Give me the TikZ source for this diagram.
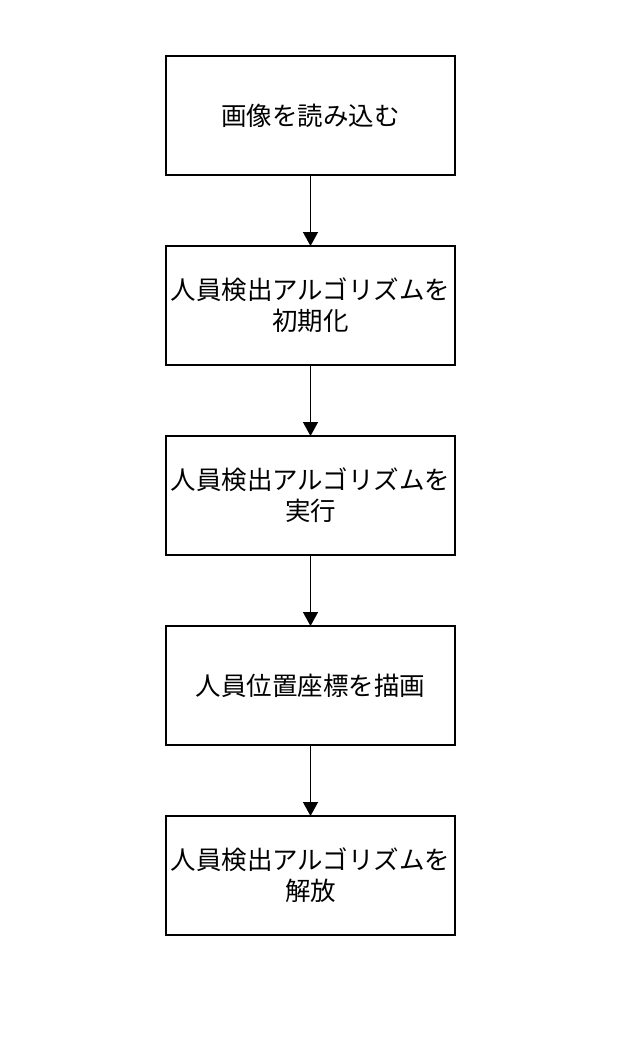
\documentclass[tikz,border=0pt]{standalone}
\usepackage{fontspec}
\setmainfont{Noto Sans CJK JP}
\usetikzlibrary{arrows.meta,positioning}
\begin{document}
\begin{tikzpicture}[
		x=1pt,
		y=-1pt,
		font=\fontsize{25.5}{31}\selectfont,
		>={Triangle[length=14pt,width=15pt]},
		box/.style={draw,line width=1.4pt,align=center,minimum width=289pt,minimum height=119pt,text width=289pt,inner sep=0pt,outer sep=0pt},
		flow/.style={->,line width=1.4pt},
		node distance=71pt
		]
		
		% =====================================================
		% Canvas
		% =====================================================
		\useasboundingbox (0,0) rectangle (620,1050);
		
		% =====================================================
		% Steps
		% =====================================================
		\node[box] (load) at (310.5,115.5) {画像を読み込む};
		
		\node[box,below=of load] (init)
		{人員検出アルゴリズムを\\初期化};
		
		\node[box,below=of init] (run)
		{人員検出アルゴリズムを\\実行};
		
		\node[box,below=of run] (plot) {人員位置座標を描画};
		
		\node[box,below=of plot] (release)
		{人員検出アルゴリズムを\\解放};
		
		% step arrows
		\draw[flow] (load) -- (init);
		\draw[flow] (init) -- (run);
		\draw[flow] (run) -- (plot);
		\draw[flow] (plot) -- (release);
		
	\end{tikzpicture}
\end{document}
